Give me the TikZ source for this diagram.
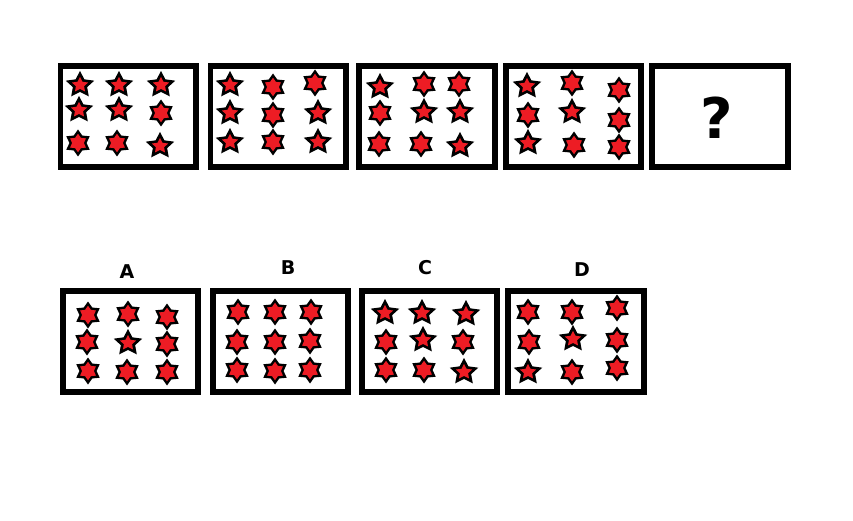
\documentclass[tikz,border=0pt]{standalone}
\usepackage{fontspec}
\setmainfont{DejaVu Sans}
\definecolor{starred}{RGB}{237,28,36}
\tikzset{
  panel/.style={draw=black, line width=5.5pt},
  starout/.style={fill=black},
  starin/.style={fill=starred},
  lbl/.style={font=\fontsize{19}{19}\selectfont\bfseries, inner sep=0pt},
}
\newcommand\sfive[2]{%
  \begin{scope}[shift={(#1,#2)}, xscale=1.07]
    \fill[starout] (-90:14) \foreach \i in {1,...,9}{ -- ({-90+36*\i}:{ifthenelse(mod(\i,2)==0,14,7)}) } -- cycle;
    \fill[starin] (-90:8) \foreach \i in {1,...,9}{ -- ({-90+36*\i}:{ifthenelse(mod(\i,2)==0,8,4)}) } -- cycle;
  \end{scope}}
\newcommand\ssix[2]{%
  \begin{scope}[shift={(#1,#2)}]
    \fill[starout] (-90:13.5) \foreach \i in {1,...,11}{ -- ({-90+30*\i}:{ifthenelse(mod(\i,2)==0,13.5,8.6)}) } -- cycle;
    \fill[starin] (-90:9.2) \foreach \i in {1,...,11}{ -- ({-90+30*\i}:{ifthenelse(mod(\i,2)==0,9.2,5.9)}) } -- cycle;
  \end{scope}}
\begin{document}
\begin{tikzpicture}[x=1pt,y=-1pt]
\useasboundingbox[fill=white] (0,0) rectangle (853,521);
% top row panels
\draw[panel] (60.5,66) rectangle (196,167);
\draw[panel] (210.5,66) rectangle (346,167);
\draw[panel] (359,66) rectangle (495,167);
\draw[panel] (506,66) rectangle (641,167);
\draw[panel] (652,66) rectangle (788,167);
\node[font=\fontsize{56}{56}\selectfont\bfseries, inner sep=0pt] (q) at (717,118) {?};
% panel 1
\sfive{80}{85}\sfive{119}{85}\sfive{161}{85}
\sfive{79}{110}\sfive{119}{110}\ssix{161}{113}
\ssix{78}{143}\ssix{117}{143}\sfive{160}{146}
% panel 2
\sfive{230}{85}\ssix{273}{87}\ssix{315}{83}
\sfive{230}{113}\ssix{273}{115}\sfive{318}{113}
\sfive{230}{142}\ssix{273}{142}\sfive{318}{142}
% panel 3
\sfive{380}{87}\ssix{424}{84}\ssix{459}{84}
\ssix{380}{113}\sfive{424}{112}\sfive{460}{112}
\ssix{379}{144}\ssix{421}{144}\sfive{460}{146}
% panel 4
\sfive{527}{86}\ssix{572}{83}\ssix{619}{90}
\ssix{528}{115}\sfive{572}{112}\ssix{619}{120}
\sfive{528}{143}\ssix{574}{145}\ssix{619}{147}
% bottom row
\node[lbl] (la) at (127,272) {A};
\node[lbl] (lb) at (288,268) {B};
\node[lbl] (lc) at (425,268) {C};
\node[lbl] (ld) at (582,270) {D};
\draw[panel] (63,291) rectangle (198,392);
\draw[panel] (213,291) rectangle (348,392);
\draw[panel] (362,291) rectangle (497,392);
\draw[panel] (508,291) rectangle (644,392);
% A
\ssix{88}{315}\ssix{128}{314}\ssix{167}{317}
\ssix{87}{342}\sfive{128}{343}\ssix{167}{344}
\ssix{88}{371}\ssix{127}{372}\ssix{167}{372}
% B
\ssix{238}{312}\ssix{275}{312}\ssix{311}{312}
\ssix{237}{342}\ssix{275}{342}\ssix{310}{341}
\ssix{237}{370}\ssix{275}{371}\ssix{310}{370}
% C
\sfive{385}{313}\sfive{422}{313}\sfive{466}{314}
\ssix{386}{342}\sfive{423}{340}\ssix{463}{342}
\ssix{386}{370}\ssix{424}{370}\sfive{464}{372}
% D
\ssix{528}{312}\ssix{572}{312}\ssix{617}{308}
\ssix{529}{342}\sfive{573}{339}\ssix{617}{340}
\sfive{528}{372}\ssix{572}{372}\ssix{617}{368}
\end{tikzpicture}
\end{document}
